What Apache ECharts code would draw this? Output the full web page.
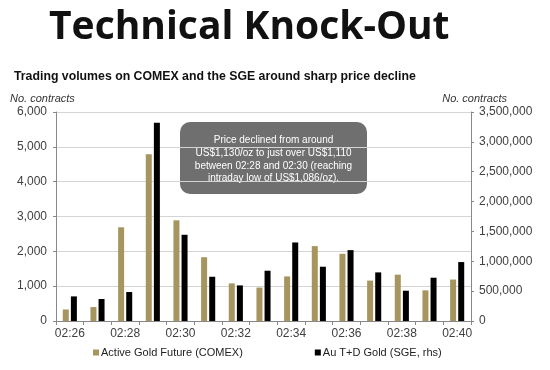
<!DOCTYPE html>
<html>
<head>
<meta charset="utf-8">
<script src="https://cdn.jsdelivr.net/npm/echarts@6/dist/echarts.min.js"></script>
<style>html,body{margin:0;padding:0;background:#fff}#c{width:550px;height:370px}</style>
</head>
<body>
<div id="c"></div>
<script>
var categories = ['02:26','02:27','02:28','02:29','02:30','02:31','02:32','02:33','02:34','02:35','02:36','02:37','02:38','02:39','02:40'];
var comexValues = [330, 400, 2690, 4790, 2890, 1830, 1080, 960, 1280, 2150, 1930, 1160, 1330, 880, 1190];
var sgeValues = [412000, 368000, 485000, 3320000, 1444000, 741000, 596000, 842000, 1315000, 909000, 1187000, 814000, 507000, 725000, 987000];
var leftTicks = {min: 0, max: 6000, interval: 1000};
var rightTicks = {min: 0, max: 3500000, interval: 500000};
var seriesNames = ['Active Gold Future (COMEX)', 'Au T+D Gold (SGE, rhs)'];
var noteLines = ['Price declined from around', 'US$1,130/oz to just over US$1,110', 'between 02:28 and 02:30 (reaching', 'intraday low of US$1,086/oz).'];

var chart = echarts.init(document.getElementById('c'), null, {renderer: 'canvas'});
var fmt = function (v) { return v.toLocaleString('en-US'); };
var axisLabelStyle = {color: '#404040', fontFamily: 'Liberation Sans', fontSize: 12};
chart.setOption({
  animation: false,
  backgroundColor: '#fff',
  title: [
    {text: 'Technical Knock-Out', left: 44, top: 3,
     textStyle: {fontFamily: 'Open Sans', fontWeight: 'bold', fontSize: 39, color: '#111'}},
    {text: 'Trading volumes on COMEX and the SGE around sharp price decline', left: 9, top: 66,
     textStyle: {fontFamily: 'Liberation Sans', fontWeight: 'bold', fontSize: 12.3, color: '#111'}}
  ],
  legend: {
    bottom: 7, left: 88, itemGap: 72, itemWidth: 6, itemHeight: 6, icon: 'rect',
    textStyle: {fontFamily: 'Liberation Sans', fontSize: 11, color: '#222', padding: [0, 0, 0, -3]},
    data: seriesNames
  },
  grid: {left: 56, right: 79, top: 112, bottom: 49, containLabel: false},
  xAxis: {
    type: 'category', data: categories, boundaryGap: true,
    axisLine: {lineStyle: {color: '#888'}},
    axisTick: {show: true, length: 4, interval: 0, lineStyle: {color: '#888'}},
    axisLabel: Object.assign({interval: 1, margin: 7}, axisLabelStyle)
  },
  yAxis: [
    {type: 'value', min: leftTicks.min, max: leftTicks.max, interval: leftTicks.interval,
     name: 'No. contracts', nameLocation: 'end', nameGap: 8,
     nameTextStyle: {fontFamily: 'Liberation Sans', fontStyle: 'italic', fontSize: 11, color: '#333', align: 'left', padding: [0, 0, 0, -46]},
     axisLine: {show: true, lineStyle: {color: '#888'}},
     axisTick: {show: true, length: 3, lineStyle: {color: '#888'}},
     splitLine: {show: true, lineStyle: {color: '#d4d4d4'}},
     axisLabel: Object.assign({formatter: fmt, margin: 9}, axisLabelStyle)},
    {type: 'value', min: rightTicks.min, max: rightTicks.max, interval: rightTicks.interval,
     name: 'No. contracts', nameLocation: 'end', nameGap: 8,
     nameTextStyle: {fontFamily: 'Liberation Sans', fontStyle: 'italic', fontSize: 11, color: '#333', align: 'right', padding: [0, -36, 0, 0]},
     axisLine: {show: true, lineStyle: {color: '#888'}},
     axisTick: {show: true, length: 3, lineStyle: {color: '#888'}},
     splitLine: {show: false},
     axisLabel: Object.assign({formatter: fmt, margin: 8}, axisLabelStyle)}
  ],
  series: [
    {name: seriesNames[0], type: 'bar', yAxisIndex: 0, data: comexValues,
     itemStyle: {color: '#A6955F'}, barWidth: 6, barGap: '35%'},
    {name: seriesNames[1], type: 'bar', yAxisIndex: 1, data: sgeValues,
     itemStyle: {color: '#000'}, barWidth: 6, barGap: '35%'}
  ],
  graphic: [
    {type: 'group', left: 180, top: 122, children: [
      {type: 'rect', shape: {x: 0, y: 0, width: 187, height: 72, r: 10},
       style: {fill: '#6f6f6f'}},
      {type: 'text', x: 93.5, y: 12, style: {
        text: noteLines.join('\n'), fill: '#fff', align: 'center', verticalAlign: 'top',
        fontFamily: 'Liberation Sans', fontSize: 10, lineHeight: 12.7}}
    ]}
  ]
});
</script>
</body>
</html>
